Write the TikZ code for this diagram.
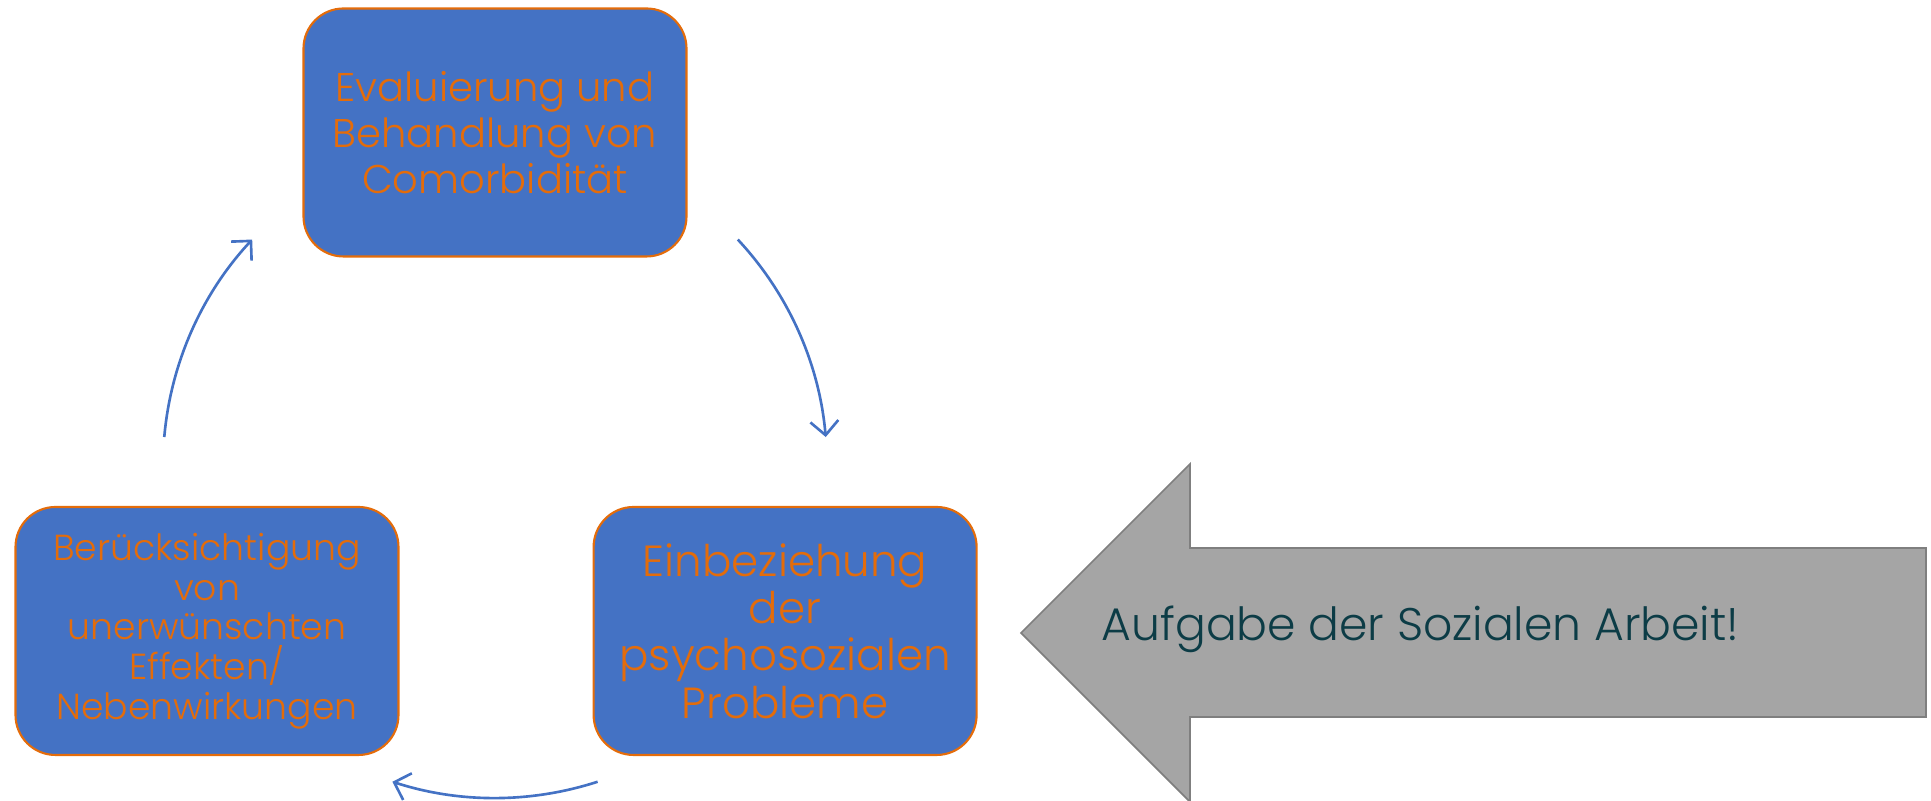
\documentclass[tikz,border=0pt]{standalone}
\usepackage{fontspec}
\setmainfont{Poppins Light}
\usepackage{xcolor}
\usetikzlibrary{arrows.meta,positioning}
\definecolor{boxblue}{RGB}{68,114,196}
\definecolor{boxorange}{RGB}{228,108,10}
\definecolor{taskgray}{RGB}{165,165,165}
\definecolor{taskedge}{RGB}{127,127,127}
\definecolor{taskteal}{RGB}{12,60,70}

\begin{document}
\begin{tikzpicture}[
    node distance=1.93cm,
    cyclebox/.style={rectangle,rounded corners=0.4cm,draw=boxorange,fill=boxblue,line width=0.6pt,
      minimum width=3.83cm,minimum height=2.48cm,align=center,text=boxorange,inner sep=0pt},
    cyclearrow/.style={-{Straight Barb[length=1.4mm,width=2.8mm]},line width=0.75pt,draw=boxblue},
    taskarrow/.style={draw=taskedge,fill=taskgray,line width=0.5pt,line join=miter}
  ]
  \useasboundingbox (0,0) rectangle (19.31,8.01);
  % the three steps of the cycle
  \node[cyclebox,font=\fontsize{11.4}{13.1}\selectfont] (comorb) at (4.95,6.685)
    {Evaluierung und\\Behandlung von\\Comorbidität};
  \node[cyclebox,font=\fontsize{10.3}{11.3}\selectfont] (effects) at (2.07,1.70)
    {Berücksichtigung\\von\\unerwünschten\\Effekten/\\Nebenwirkungen};
  \node[cyclebox,font=\fontsize{12.4}{13.5}\selectfont,right=of effects] (psycho)
    {Einbeziehung\\der\\psychosozialen\\Probleme};
  % arcs round the cycle
  \coordinate (hub) at (4.95,3.35);
  \draw[cyclearrow] ([shift={(175:3.32)}]hub) arc[start angle=175,end angle=137,radius=3.32];
  \draw[cyclearrow] ([shift={(43:3.32)}]hub) arc[start angle=43,end angle=5,radius=3.32];
  \draw[cyclearrow] ([shift={(-72:3.32)}]hub) arc[start angle=-72,end angle=-108,radius=3.32];
  % big arrow pointing at the psychosocial step
  \draw[taskarrow] (10.21,1.68) -- (11.90,3.37) -- (11.90,2.53) -- (19.26,2.53)
    -- (19.26,0.84) -- (11.90,0.84) -- (11.90,-0.01) -- cycle;
  \node[anchor=base west,text=taskteal,font=\fontsize{13.0}{15}\selectfont,inner sep=0pt] (task)
    at (11.01,1.60) {Aufgabe der Sozialen Arbeit!};
\end{tikzpicture}
\end{document}
